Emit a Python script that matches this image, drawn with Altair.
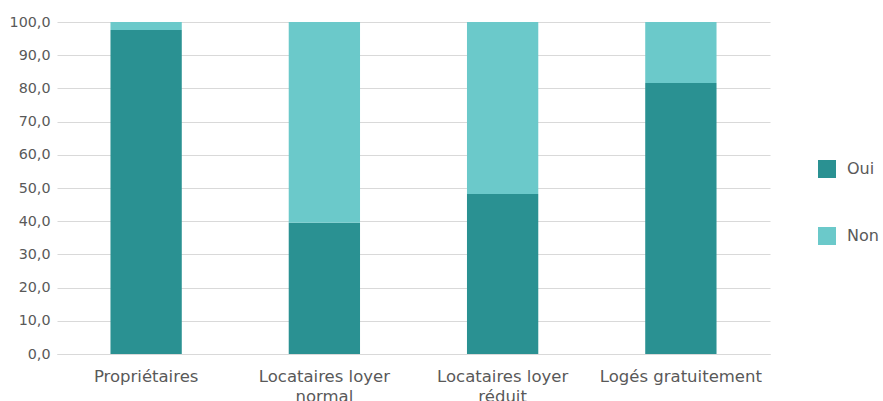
import altair as alt
import pandas as pd

categories = ["Propriétaires", "Locataires loyer normal", "Locataires loyer réduit", "Logés gratuitement"]
oui = [97.6, 39.5, 48.2, 81.6]
non = [2.4, 60.5, 51.8, 18.4]
series = ["Oui", "Non"]
colors = ["#2a9192", "#6bc9ca"]

rows = []
for c, o, n in zip(categories, oui, non):
    rows.append({"cat": c, "serie": "Oui", "val": o, "ord": 0})
    rows.append({"cat": c, "serie": "Non", "val": n, "ord": 1})
df = pd.DataFrame(rows)

FONT = "DejaVu Sans"
TXT = "#595959"

label_expr = (
    "datum.label == 'Locataires loyer normal' ? ['Locataires loyer', 'normal'] : "
    "datum.label == 'Locataires loyer réduit' ? ['Locataires loyer', 'réduit'] : datum.label"
)

chart = alt.Chart(df).mark_bar().encode(
    x=alt.X("cat:N", sort=categories, title=None,
            scale=alt.Scale(paddingInner=0.6, paddingOuter=0.3),
            axis=alt.Axis(labelAngle=0, labelExpr=label_expr, labelFont=FONT, labelFontSize=16.5,
                          labelColor=TXT, labelPadding=14, labelLineHeight=20, ticks=False,
                          domainColor="#d9d9d9", labelBaseline="top", grid=False)),
    y=alt.Y("val:Q", stack="zero", title=None,
            scale=alt.Scale(domain=[0, 100], nice=False),
            axis=alt.Axis(values=list(range(0, 101, 10)), labelExpr="replace(format(datum.value, '.1f'), '.', ',')",
                          labelFont=FONT, labelFontSize=14.3, labelColor=TXT, ticks=False, domain=False,
                          gridColor="#d9d9d9", labelPadding=7)),
    color=alt.Color("serie:N", sort=series, scale=alt.Scale(domain=series, range=colors),
                    legend=alt.Legend(title=None, orient="none", legendX=761, legendY=138,
                                      symbolType="square", symbolSize=324, symbolStrokeWidth=0,
                                      labelFont=FONT, labelFontSize=16, labelColor=TXT,
                                      labelOffset=11, rowPadding=49, padding=0)),
    order=alt.Order("ord:Q"),
).properties(
    width=713, height=332,
    background="white",
    autosize=alt.AutoSizeParams(type="none"),
    padding={"left": 57, "top": 22, "right": 113, "bottom": 47},
).configure_view(stroke=None, strokeWidth=0)

chart.save("out.html", embed_options={"renderer": "svg", "actions": False})
